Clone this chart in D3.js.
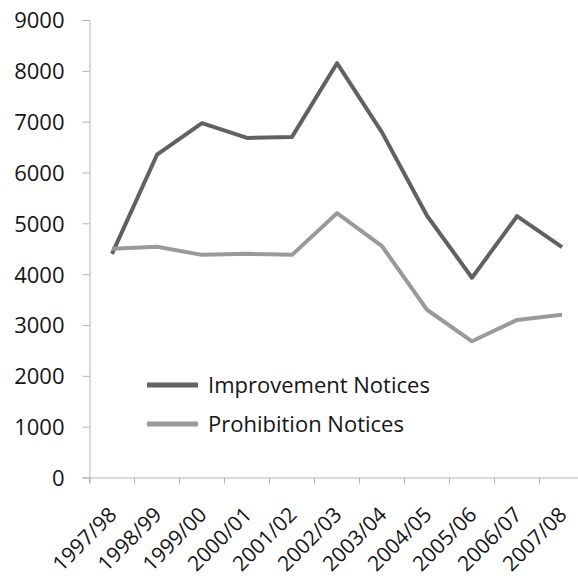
<!DOCTYPE html>
<html>
<head>
<meta charset="utf-8">
<script src="https://cdn.jsdelivr.net/npm/d3@7"></script>
<style>
  body { margin: 0; background: #fff; }
  text { font-family: "Open Sans", sans-serif; fill: #151515; }
</style>
</head>
<body>
<div id="chart"></div>
<script>
var years = ["1997/98", "1998/99", "1999/00", "2000/01", "2001/02", "2002/03",
  "2003/04", "2004/05", "2005/06", "2006/07", "2007/08"];
var improvement = [4400, 6350, 6970, 6680, 6700, 8150, 6790, 5150, 3930, 5140, 4530];
var prohibition = [4500, 4540, 4380, 4400, 4380, 5200, 4550, 3300, 2680, 3100, 3200];
var yTicks = [0, 1000, 2000, 3000, 4000, 5000, 6000, 7000, 8000, 9000];

var svgWidth = 578;
var svgHeight = 579;

var svg = d3.select("#chart")
  .append("svg")
  .attr("width", svgWidth)
  .attr("height", svgHeight);

var x = d3.scaleBand()
  .domain(years)
  .range([89.5, 584.5]);

var y = d3.scaleLinear()
  .domain([0, 9000])
  .range([477.5, 20]);

var series = [
  { name: "Improvement Notices", values: improvement, color: "#616161" },
  { name: "Prohibition Notices", values: prohibition, color: "#9a9a9a" }
];

// y axis
var leftAxis = d3.axisLeft(y)
  .tickValues(yTicks)
  .tickFormat(d3.format("d"))
  .tickSize(7)
  .tickPadding(18);
var gy = svg.append("g")
  .attr("transform", "translate(89.5,0)")
  .call(leftAxis);
gy.selectAll("text").style("font-size", "22px").attr("dy", "0.36em");

// x axis, ticks on band boundaries
var bottomAxis = d3.axisBottom(x).tickSize(6).tickFormat("");
var gx = svg.append("g")
  .attr("transform", "translate(0,477.5)")
  .call(bottomAxis);
gx.selectAll(".tick line").attr("x1", -x.bandwidth() / 2).attr("x2", -x.bandwidth() / 2);

svg.selectAll("path.domain, .tick line")
  .attr("stroke", "#b4b4b4");

svg.append("g")
  .selectAll("text")
  .data(years)
  .enter()
  .append("text")
  .attr("transform", d => `translate(${x(d) + x.bandwidth() / 2 + 6},${516}) rotate(-45)`)
  .attr("text-anchor", "end")
  .style("font-size", "21px")
  .text(d => d);

var line = d3.line()
  .x((d, i) => x(years[i]) + x.bandwidth() / 2)
  .y(d => y(d));

svg.selectAll(".series")
  .data(series)
  .enter()
  .append("path")
  .attr("class", "series")
  .attr("fill", "none")
  .attr("stroke", d => d.color)
  .attr("stroke-width", 4)
  .attr("stroke-linejoin", "round")
  .attr("d", d => line(d.values));

// legend
var legend = svg.append("g")
  .selectAll("g")
  .data(series)
  .enter()
  .append("g")
  .attr("transform", (d, i) => `translate(147,${385 + i * 39})`);

legend.append("line")
  .attr("x1", 0).attr("x2", 51)
  .attr("stroke", d => d.color)
  .attr("stroke-width", 5);

legend.append("text")
  .attr("x", 61)
  .attr("dy", "0.36em")
  .style("font-size", "22px")
  .text(d => d.name);
</script>
</body>
</html>
